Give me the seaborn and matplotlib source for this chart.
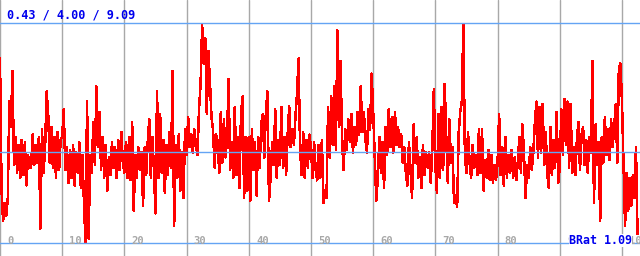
"""Red trace with min / mean / max guide lines (640x256)."""
import numpy as np
import pandas as pd
import seaborn as sns
import matplotlib.pyplot as plt

sns.set_style("white")
plt.rcParams["font.family"] = ["DejaVu Sans Mono", "DejaVu Sans"]

# values, one row = 5 x-units (step 0.25)
values = [
    7.7, 2.5, 1.3, 2.0, 1.5, 2.2, 6.0, 5.0, 7.2, 3.5, 4.6, 3.2, 4.3, 3.0, 4.5, 3.1, 4.4, 2.7, 3.9, 3.4,
    3.4, 4.7, 3.5, 4.3, 3.6, 4.6, 1.0, 4.9, 3.2, 4.2, 6.4, 5.5, 3.6, 5.0, 3.4, 4.6, 3.0, 4.8, 3.3, 4.5,
    4.6, 5.7, 3.3, 4.2, 2.8, 4.1, 3.0, 4.3, 2.7, 4.0, 3.2, 4.4, 2.6, 3.9, 2.0, 0.45, 6.0, 0.6, 3.9, 3.2,
    5.2, 3.5, 6.6, 4.2, 5.6, 3.3, 4.6, 3.0, 4.3, 2.5, 3.8, 3.1, 4.4, 3.4, 4.2, 3.0, 4.5, 3.3, 4.8, 3.6,
    3.2, 4.4, 3.0, 4.6, 2.9, 5.2, 1.7, 3.9, 3.0, 4.2, 3.3, 4.0, 1.9, 4.2, 3.1, 4.4, 5.3, 3.0, 4.6, 3.3,
    1.6, 6.4, 3.0, 5.5, 3.2, 4.5, 2.4, 4.3, 3.1, 4.8, 3.4, 7.2, 1.1, 4.3, 3.0, 4.7, 2.5, 4.0, 2.2, 4.9,
    3.9, 5.4, 4.2, 4.7, 4.0, 4.9, 4.3, 3.9, 5.7, 6.7, 9.0, 7.5, 8.5, 5.5, 8.0, 6.8, 5.4, 4.9, 3.4, 4.7,
    4.4, 3.2, 5.6, 3.6, 5.3, 3.8, 4.5, 6.9, 3.3, 4.4, 3.0, 5.8, 3.1, 4.6, 2.6, 5.5, 6.2, 2.2, 4.6, 2.5,
    4.6, 2.1, 4.9, 3.3, 4.4, 2.3, 4.6, 3.4, 5.1, 5.5, 3.8, 5.6, 6.4, 2.1, 3.0, 4.4, 3.5, 5.7, 3.0, 4.5,
    3.5, 5.8, 3.4, 4.6, 3.1, 4.7, 5.8, 4.2, 4.9, 4.3, 5.4, 6.3, 7.7, 4.1, 3.1, 4.8, 3.0, 4.5, 3.4, 4.7,
    4.2, 3.0, 4.4, 3.3, 2.9, 4.3, 3.0, 4.5, 2.0, 2.5, 2.2, 5.8, 3.8, 6.2, 4.3, 6.6, 4.1, 8.8, 5.0, 7.6,
    4.4, 3.3, 4.9, 4.1, 5.3, 4.4, 5.5, 4.0, 5.0, 4.3, 5.6, 4.7, 6.6, 4.8, 5.6, 4.5, 4.0, 5.7, 4.9, 7.1,
    5.6, 3.9, 2.1, 3.0, 4.6, 3.2, 4.4, 2.6, 5.0, 3.9, 5.7, 4.2, 5.4, 4.0, 5.6, 4.3, 5.0, 4.2, 4.7, 3.6,
    4.2, 3.2, 2.7, 4.4, 3.3, 2.2, 5.1, 3.6, 4.6, 3.0, 3.8, 2.6, 4.3, 3.1, 4.0, 3.4, 4.0, 2.8, 4.1, 6.5,
    3.5, 2.4, 5.5, 3.0, 5.8, 3.3, 6.7, 4.6, 2.8, 5.3, 3.6, 4.2, 2.0, 2.3, 1.85, 4.8, 5.6, 6.0, 9.05, 3.8,
    3.2, 4.8, 3.6, 3.0, 4.3, 3.4, 3.9, 3.1, 4.9, 3.2, 4.9, 2.5, 3.7, 3.0, 4.1, 2.9, 3.9, 2.8, 3.5, 2.9,
    3.6, 5.5, 3.1, 4.2, 2.7, 4.6, 3.0, 3.9, 3.2, 4.1, 3.0, 3.8, 2.9, 3.6, 4.6, 3.2, 5.1, 3.9, 2.2, 3.5,
    3.0, 4.2, 3.3, 4.0, 5.2, 6.0, 3.8, 5.8, 4.0, 5.9, 3.5, 4.8, 3.1, 2.6, 5.0, 3.1, 4.5, 3.4, 5.6, 2.8,
    3.4, 5.7, 3.9, 6.1, 4.3, 6.0, 3.4, 5.9, 3.2, 4.2, 3.1, 4.5, 5.2, 3.3, 4.7, 5.0, 3.5, 4.5, 3.2, 4.6,
    4.0, 7.6, 2.0, 5.1, 3.5, 4.4, 1.3, 4.6, 3.6, 5.4, 3.9, 4.9, 3.7, 5.3, 4.2, 5.0, 5.9, 3.6, 7.3, 7.5,
    6.0, 3.6, 1.1, 3.2, 1.7, 3.0, 1.9, 3.1, 2.2, 4.2, 0.8,
]
step = 0.25
x_ticks = [0, 10, 20, 30, 40, 50, 60, 70, 80, 90, 100]
tick_labels = ["0", "10", "20", "30", "40", "50", "60", "70", "80", "90", "100"]
stat_min, stat_mean, stat_max = 0.43, 4.00, 9.09
stats_text = "0.43 / 4.00 / 9.09"
ratio_text = "BRat 1.09"

df = pd.DataFrame({"x": np.arange(len(values)) * step, "v": values})

GRID = "#a8a8a8"
BLUE_LINE = "#64a4f4"
TXT_BLUE = "#0000ee"

fig = plt.figure(figsize=(6.4, 2.56), dpi=100)
ax = fig.add_axes([0, 0, 1, 1])

for xt in x_ticks:
    ax.axvline(xt, color=GRID, lw=1, zorder=0)
for yv in (stat_min, stat_mean, stat_max):
    ax.axhline(yv, color=BLUE_LINE, lw=1, zorder=3)

sns.lineplot(data=df, x="x", y="v", color="#ff0000", lw=1.1,
    estimator=None, sort=False, antialiased=False, ax=ax, zorder=2)

ax.set_xlim(0, 102.9)
ax.set_ylim(-0.08, 10.0)
ax.set_axis_off()

for xt, lab in zip(x_ticks, tick_labels):
    ax.text(xt + 1.15, 0.06, lab, color=GRID, fontsize=7.6, fontweight="bold",
        ha="left", va="center", transform=ax.get_xaxis_transform(), zorder=4)

ax.text(7 / 640, 1 - 15 / 256, stats_text, transform=ax.transAxes,
    color=TXT_BLUE, fontsize=8.5, fontweight="bold", ha="left", va="center", zorder=5)
ax.text(632 / 640, 1 - 240.5 / 256, ratio_text, transform=ax.transAxes,
    color=TXT_BLUE, fontsize=8.4, fontweight="bold", ha="right", va="center", zorder=5,
    bbox=dict(facecolor="white", edgecolor="none", pad=0.3))

plt.savefig("out.png", dpi=100)
plt.close()
